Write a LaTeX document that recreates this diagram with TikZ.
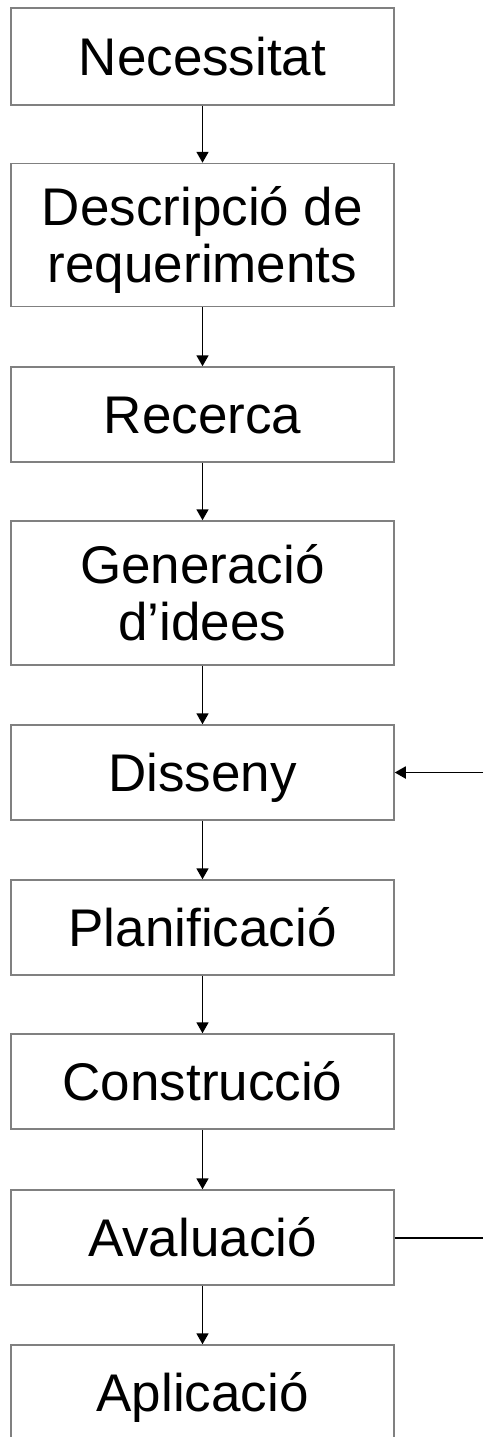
\documentclass[tikz,border=0pt]{standalone}
\usepackage{fontspec}
\setmainfont{Liberation Sans}
\usetikzlibrary{arrows.meta}
\definecolor{edge}{HTML}{808080}
\tikzset{b/.style = {draw=edge, line width=1.5pt, minimum width=383pt, minimum height=95pt,
        inner sep=0pt, align=center, text height=38pt, text depth=0pt,
        font=\fontsize{53}{57}\selectfont},
    bb/.style = {b, minimum height=143pt, text height=95pt},
    e/.style = {line width=1.8pt, -{Triangle[width=12pt, length=11pt]}},
    l/.style = {line width=2pt}}

\begin{document}
\begin{tikzpicture}[x=1pt, y=-1pt]
        \useasboundingbox (0,0) rectangle (483,1437);
        \node[b, minimum height=97pt] (nec) at (202.5,56.5) {Necessitat};
        \node[bb] (des) at (202.5,235) {Descripció de\\requeriments};
        \node[b] (rec) at (202.5,414.5) {Recerca};
        \node[bb, minimum height=144pt] (gen) at (202.5,593) {Generació\\d’idees};
        \foreach \n/\y/\t in {dis/772.5/Disseny, pla/927.5/Planificació, con/1081.5/Construcció,
            ava/1237.5/Avaluació, apl/1392.5/Aplicació} \node[b] (\n) at (202.5,\y) {\t};

        \coordinate (fa) at (483,772.5);
        \coordinate (fb) at (483,1237.5);

        \foreach \p/\q in {nec/des, des/rec, rec/gen, gen/dis, dis/pla, pla/con, con/ava, ava/apl}
            \draw[e] (\p) -- (\q);
        \draw[e] (fa) -- (dis);
        \draw[l] (ava) -- (fb);
    \end{tikzpicture}
\end{document}
